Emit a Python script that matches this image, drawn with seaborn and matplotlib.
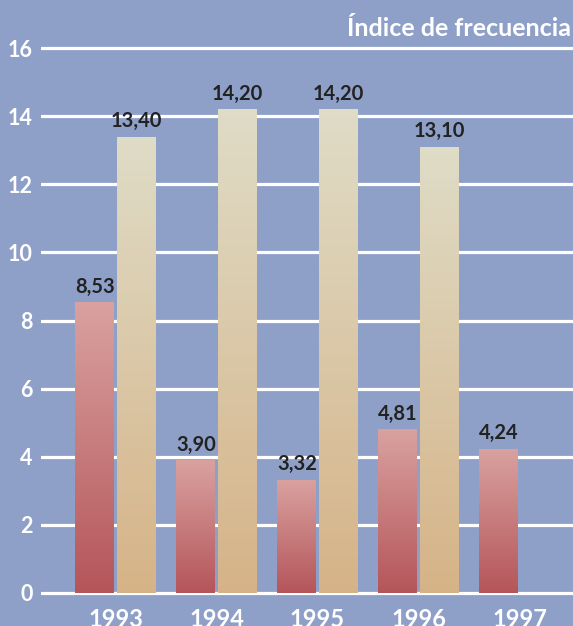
"""Índice de frecuencia 1993-1997, gradient bar chart."""

import numpy as np
import pandas as pd
import matplotlib.pyplot as plt
import seaborn as sns
from matplotlib.colors import LinearSegmentedColormap

# Data
years = ["1993", "1994", "1995", "1996", "1997"]
serie_a = [8.53, 3.90, 3.32, 4.81, 4.24]
serie_b = [13.40, 14.20, 14.20, 13.10, None]
yticks = [0, 2, 4, 6, 8, 10, 12, 14, 16]

# Long format, drop the missing 1997 value of the second series
rows = []
for year, a, b in zip(years, serie_a, serie_b):
    rows.append({"year": year, "serie": "A", "valor": a})
    if b is not None:
        rows.append({"year": year, "serie": "B", "valor": b})
df = pd.DataFrame(rows)

bg = "#8fa0c8"
cmaps = [
    LinearSegmentedColormap.from_list("rojo", ["#b5555a", "#d9a29f"]),
    LinearSegmentedColormap.from_list("beige", ["#d6b387", "#dfdcc7"]),
]

sns.set_style("white")
plt.rcParams["font.family"] = ["Lato", "DejaVu Sans"]

W, H = 573, 626
fig = plt.figure(figsize=(W / 100, H / 100), dpi=100, facecolor=bg)

# y: 34.06 px per unit, 0 at px 593; x: group spacing 101 px, first group at px 115.5
ylo, yhi = -0.1, 16.3
ppu = 34.06
left_px = 41
bottom_px = 593 + (0 - ylo) * ppu
top_px = 48 - (yhi - 16) * ppu
ax = fig.add_axes([left_px / W, 1 - bottom_px / H, 1 - left_px / W, (bottom_px - top_px) / H])
ax.set_facecolor(bg)

sns.barplot(data=df, x="year", y="valor", hue="serie", hue_order=["A", "B"],
            order=years, width=0.82, gap=0.06, legend=False, ax=ax,
            edgecolor="none", linewidth=0)

# Gradient fill clipped to each bar
grad = np.linspace(0, 1, 256).reshape(-1, 1)
for container, cmap in zip(ax.containers, cmaps):
    for bar in container:
        h = bar.get_height()
        if not np.isfinite(h) or h == 0:
            continue
        x0 = bar.get_x()
        w = bar.get_width()
        im = ax.imshow(grad, cmap=cmap, origin="lower", aspect="auto",
                       extent=[x0, x0 + w, 0, h], zorder=2)
        im.set_clip_path(bar)
        bar.set_facecolor("none")
        ax.annotate(f"{h:.2f}".replace(".", ","), (x0 + w / 2, h), xytext=(0, 4),
                    textcoords="offset points", ha="center", va="bottom",
                    fontsize=14.5, fontweight="bold", color="#222222", zorder=4)

ax.set_xlim((left_px - 115.5) / 101, (573 - 115.5) / 101)
ax.set_ylim(ylo, yhi)

# Grid
ax.set_yticks(yticks)
ax.grid(axis="y", color="white", linewidth=2.3)
ax.grid(axis="x", visible=False)
ax.set_axisbelow(True)
ax.set_yticklabels([str(t) for t in yticks], fontsize=15.5, fontweight="bold", color="white")
ax.set_xticks(range(len(years)))
ax.set_xticklabels(years, fontsize=17, fontweight="bold", color="white")
ax.tick_params(axis="y", length=0, pad=6)
ax.tick_params(axis="x", length=0, pad=8)
ax.set_xlabel("")
ax.set_ylabel("")
sns.despine(ax=ax, left=True, bottom=True)

fig.text(571 / W, 1 - 36 / H, "Índice de frecuencia", ha="right", va="baseline",
         fontsize=18, fontweight="bold", color="white")

fig.savefig("out.png", dpi=100, facecolor=bg)
